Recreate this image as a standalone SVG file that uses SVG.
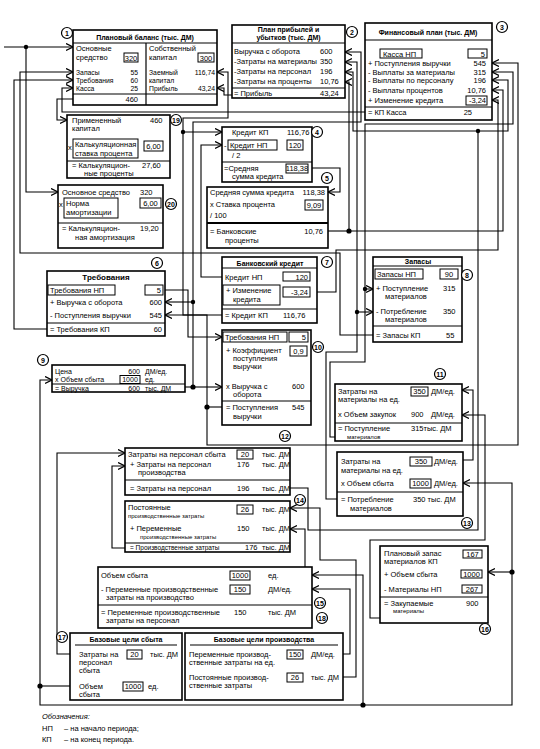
<svg xmlns="http://www.w3.org/2000/svg" width="540" height="749" viewBox="0 0 540 749">
<style>
text{font-family:"Liberation Sans",Arial,sans-serif;font-size:7.5px;fill:#000}
.t{font-weight:bold;font-size:7px}
.s{font-size:6px}
.q{font-size:6.8px}
.r{text-anchor:end}
.m{text-anchor:middle}
.b{fill:#fff;stroke:#000;stroke-width:1.6}
.v{fill:none;stroke:#000;stroke-width:1}
.ln{stroke:#000;stroke-width:1.2}
.c{fill:#fff;stroke:#000;stroke-width:1.2}
.cn{font-size:7px;font-weight:bold;text-anchor:middle}
.w{fill:none;stroke:#000;stroke-width:1.1;marker-end:url(#a)}
.wn{fill:none;stroke:#000;stroke-width:1.1}
.d{fill:#000}
.i{font-style:italic}
</style>
<defs>
<marker id="a" markerWidth="9" markerHeight="9" refX="7" refY="4" orient="auto" markerUnits="userSpaceOnUse"><path d="M0,0.5 L7,4 L0,7.5" fill="none" stroke="#000" stroke-width="1.3"/></marker>
</defs>
<rect width="540" height="749" fill="#fff"/>

<g id="connectors">
<path class="w" d="M4,47 H73"/>
<path class="w" d="M26,47 V192 H58"/>
<path class="w" d="M373,335 H340 V253 H20 V72 H73"/>
<path class="w" d="M47,329 H14 V80 H73"/>
<path class="w" d="M365,112 H62 V88 H73"/>
<path class="w" d="M73,99 H57 V120 H67"/>
<path class="w" d="M232,95 H224 V88 H217"/>
<path class="w" d="M222,315 H183 V132 H222"/>
<path class="w" d="M183,132 V118 H228 V72 H217"/>
<path class="w" d="M222,277 H201 V145 H222"/>
<path class="w" d="M165,290 H188 V337 H222"/>
<path class="wn" d="M185,387 H193"/>
<path class="w" d="M193,387 H222"/>
<path class="w" d="M193,387 V122 H361 V52 H345"/>
<path class="w" d="M193,302 H165"/>
<path class="wn" d="M222,407 H207"/>
<path class="w" d="M207,407 V315 H165"/>
<path class="w" d="M207,407 V445 H518 V63 H492"/>
<path class="w" d="M312,168 H340 V192 H328"/>
<path class="wn" d="M328,231 H349"/>
<path class="w" d="M349,231 V82 H345"/>
<path class="w" d="M349,231 H503 V90 H492"/>
<path class="w" d="M337,499 H326 V352 H357 V62 H345"/>
<path class="w" d="M357,312 H373"/>
<path class="w" d="M335,437 H330 V362 H365 V124 H513 V72 H492"/>
<path class="w" d="M365,289 H373"/>
<path class="w" d="M317,292 H336 V250 H498 V100 H492"/>
<path class="w" d="M290,488 H308 V530 H478 V131 H353 V72 H345"/>
<path class="w" d="M478,131 H508 V80 H492"/>
<path class="w" d="M463,460 H473 V390 H462"/>
<path class="w" d="M380,618 H370 V540 H485 V415 H462"/>
<path class="wn" d="M70,686 H40"/>
<path class="w" d="M40,686 V380 H52"/>
<path class="wn" d="M40,686 V705 H363"/>
<path class="w" d="M363,705 V575 H312"/>
<path class="w" d="M363,705 H512 V483 H463"/>
<path class="w" d="M512,572 H488"/>
<path class="w" d="M70,654 H57 V453 H125"/>
<path class="w" d="M125,548 H112 V466 H125"/>
<path class="w" d="M305,567 V529 H290"/>
<path class="w" d="M343,654 H350 V589 H312"/>
<path class="w" d="M343,677 H356 V560 H320 V508 H290"/>
<circle class="d" cx="26" cy="47" r="2.2"/>
<circle class="d" cx="183" cy="132" r="2.2"/>
<circle class="d" cx="193" cy="387" r="2.6"/>
<circle class="d" cx="193" cy="302" r="2.2"/>
<circle class="d" cx="207" cy="407" r="2.6"/>
<circle class="d" cx="349" cy="231" r="2.6"/>
<circle class="d" cx="357" cy="312" r="2.2"/>
<circle class="d" cx="365" cy="289" r="2.2"/>
<circle class="d" cx="478" cy="131" r="2.2"/>
<circle class="d" cx="40" cy="686" r="2.6"/>
<circle class="d" cx="363" cy="705" r="2.6"/>
<circle class="d" cx="512" cy="572" r="2.6"/>
</g>

<g id="n1">
<rect class="b" x="73" y="30" width="144" height="75"/>
<text class="t m" x="145" y="40">Плановый баланс (тыс. ДМ)</text>
<line class="ln" x1="73" y1="43" x2="217" y2="43"/>
<line class="ln" x1="146" y1="43" x2="146" y2="105"/>
<line class="ln" x1="73" y1="94" x2="217" y2="94"/>
<text x="76" y="51">Основные</text>
<text x="76" y="60">средство</text>
<rect class="v" x="124" y="53" width="14" height="9"/>
<text class="m" x="131" y="60.5">320</text>
<text class="q" x="76" y="74.5">Запасы</text><text class="q r" x="138" y="74.5">55</text>
<text class="q" x="76" y="82.5">Требования</text><text class="q r" x="138" y="82.5">60</text>
<text class="q" x="76" y="90.5">Касса</text><text class="q r" x="138" y="90.5">25</text>
<text class="r" x="138" y="102">460</text>
<text x="149" y="51">Собственный</text>
<text x="149" y="60">капитал</text>
<rect class="v" x="198" y="53" width="16" height="9"/>
<text class="m" x="206" y="60.5">300</text>
<text class="q" x="149" y="74.5">Заемный</text><text class="q r" x="215" y="74.5">116,74</text>
<text class="q" x="149" y="82.5">капитал</text>
<text class="q" x="149" y="90.5">Прибыль</text><text class="q r" x="215" y="90.5">43,24</text>
<circle class="c" cx="67" cy="33" r="5.5"/><text class="cn" x="67" y="35.5">1</text>
</g>

<g id="n2">
<rect class="b" x="232" y="25" width="113" height="73"/>
<text class="t m" x="288.5" y="32">План прибылей и</text>
<text class="t m" x="288.5" y="39.5">убытков (тыс. ДМ)</text>
<line class="ln" x1="232" y1="43" x2="345" y2="43"/>
<text x="234" y="54">Выручка с оборота</text><text x="320" y="54">600</text>
<text x="234" y="64">-Затраты на материалы</text><text x="320" y="64">350</text>
<text x="234" y="74">-Затраты на персонал</text><text x="320" y="74">196</text>
<text x="234" y="84">-Затраты на проценты</text><text x="320" y="84">10,76</text>
<line class="ln" x1="232" y1="88" x2="345" y2="88"/>
<text x="234" y="96">= Прибыль</text><text x="320" y="96">43,24</text>
<circle class="c" cx="352" cy="32" r="5.5"/><text class="cn" x="352" y="34.5">2</text>
</g>

<g id="n3">
<rect class="b" x="365" y="23" width="127" height="97"/>
<text class="t m" x="428" y="35">Финансовый план (тыс. ДМ)</text>
<line class="ln" x1="365" y1="40" x2="492" y2="40"/>
<rect class="v" x="380" y="49" width="42" height="9"/>
<text x="383" y="56.5">Касса НП</text>
<rect class="v" x="468" y="49" width="19" height="9"/>
<text class="r" x="485" y="56.5">5</text>
<text x="368" y="65.5">+ Поступления выручки</text><text class="r" x="486" y="65.5">545</text>
<text x="368" y="74.5">- Выплаты за материалы</text><text class="r" x="486" y="74.5">315</text>
<text x="368" y="82.5">- Выплаты по персоналу</text><text class="r" x="486" y="82.5">196</text>
<text x="368" y="92.5">- Выплаты процентов</text><text class="r" x="486" y="92.5">10,76</text>
<text x="368" y="102.5">+ Изменение кредита</text>
<rect class="v" x="466" y="96" width="21" height="9"/>
<text class="r" x="486" y="103">-3,24</text>
<line class="ln" x1="365" y1="107" x2="492" y2="107"/>
<text x="368" y="115">= КП Касса</text><text class="r" x="472" y="115">25</text>
<circle class="c" cx="502" cy="27" r="5.5"/><text class="cn" x="502" y="29.5">3</text>
</g>

<g id="n19">
<rect class="b" x="67" y="115" width="103" height="63"/>
<text x="72" y="123">Примененный</text>
<text x="72" y="131">капитал</text>
<text x="150" y="123">460</text>
<text x="68" y="150">x</text>
<rect class="v" x="73" y="139" width="65" height="19"/>
<text x="75" y="147">Калькуляционная</text>
<text x="75" y="155.5">ставка процента</text>
<rect class="v" x="144" y="141" width="19" height="10"/>
<text class="m" x="153.5" y="148.5">6,00</text>
<line class="ln" x1="67" y1="161" x2="170" y2="161"/>
<text x="72" y="168">= Калькуляцион-</text>
<text x="84" y="176">ные проценты</text>
<text x="142" y="168">27,60</text>
<circle class="c" cx="176" cy="120" r="5.5"/><text class="cn" x="176" y="122.5">19</text>
</g>

<g id="n20">
<rect class="b" x="58" y="185" width="105" height="63"/>
<text x="62" y="194.5">Основное средство</text>
<text x="140" y="194.5">320</text>
<text x="59" y="207">x</text>
<rect class="v" x="64" y="198" width="54" height="20"/>
<text x="66" y="206">Норма</text>
<text x="66" y="215">амортизации</text>
<rect class="v" x="140" y="198" width="21" height="10"/>
<text class="m" x="150.5" y="205.5">6,00</text>
<line class="ln" x1="58" y1="223" x2="163" y2="223"/>
<text x="62" y="231">= Калькуляцион-</text>
<text x="75" y="239.5">ная амортизация</text>
<text x="140" y="231">19,20</text>
<circle class="c" cx="171" cy="204" r="5.5"/><text class="cn" x="171" y="206.5">20</text>
</g>

<g id="n4">
<rect class="b" x="222" y="127" width="90" height="55"/>
<text x="232" y="134.5">Кредит КП</text><text x="287" y="134.5">116,76</text>
<text x="224" y="147.5">-</text>
<rect class="v" x="228" y="140" width="49" height="10"/>
<text x="230" y="147.5">Кредит НП</text>
<rect class="v" x="287" y="140" width="16" height="10"/>
<text class="m" x="295" y="147.5">120</text>
<text x="232" y="158">/ 2</text>
<line class="ln" x1="222" y1="162" x2="312" y2="162"/>
<text x="224" y="170.5">=Средняя</text>
<text x="232" y="178.5">сумма кредита</text>
<rect class="v" x="286" y="164" width="22" height="9"/>
<text class="m" x="297" y="171">118,38</text>
<circle class="c" cx="317" cy="132" r="5.5"/><text class="cn" x="317" y="134.5">4</text>
</g>

<g id="n5">
<rect class="b" x="207" y="187" width="121" height="61"/>
<text x="210" y="194.5">Средняя сумма кредита</text><text class="r" x="325" y="194.5">118,38</text>
<text x="210" y="207">x Ставка процента</text>
<rect class="v" x="305" y="200" width="18" height="10"/>
<text class="m" x="314" y="207.5">9,09</text>
<text x="210" y="218">/ 100</text>
<line x1="207" y1="223" x2="328" y2="223" stroke="#000" stroke-width="1.8"/>
<text x="210" y="233.5">= Банковские</text>
<text x="225" y="242.5">проценты</text>
<text class="r" x="323" y="233.5">10,76</text>
<circle class="c" cx="327" cy="178" r="5.5"/><text class="cn" x="327" y="180.5">5</text>
</g>

<g id="n6">
<rect class="b" x="47" y="271" width="118" height="65"/>
<text class="t m" x="106" y="280" style="font-size:8px">Требования</text>
<rect class="v" x="48" y="285" width="67" height="10"/>
<text x="50" y="292.5">Требования НП</text>
<rect class="v" x="145" y="285" width="18" height="10"/>
<text class="r" x="161" y="292.5">5</text>
<text x="50" y="304.5">+ Выручка с оборота</text><text class="r" x="162" y="304.5">600</text>
<text x="50" y="317.5">- Поступления выручки</text><text class="r" x="162" y="317.5">545</text>
<line class="ln" x1="47" y1="323" x2="165" y2="323"/>
<text x="50" y="331.5">= Требования КП</text><text class="r" x="162" y="331.5">60</text>
<circle class="c" cx="157" cy="263" r="5.5"/><text class="cn" x="157" y="265.5">6</text>
</g>

<g id="n7">
<rect class="b" x="222" y="257" width="95" height="66"/>
<text class="t m" x="270" y="265.5">Банковский кредит</text>
<line class="ln" x1="222" y1="268" x2="317" y2="268"/>
<text x="225" y="279.5">Кредит НП</text>
<rect class="v" x="283" y="272" width="27" height="9"/>
<text class="r" x="308" y="279.5">120</text>
<rect class="v" x="223" y="285" width="57" height="20"/>
<text x="226" y="293">+ Изменение</text>
<text x="233" y="302">кредита</text>
<rect class="v" x="283" y="287" width="27" height="10"/>
<text class="r" x="308" y="294.5">-3,24</text>
<line class="ln" x1="222" y1="309" x2="317" y2="309"/>
<text x="225" y="317.5">= Кредит КП</text><text x="283" y="317.5">116,76</text>
<circle class="c" cx="327" cy="262" r="5.5"/><text class="cn" x="327" y="264.5">7</text>
</g>

<g id="n8">
<rect class="b" x="373" y="257" width="89" height="85"/>
<text class="t m" x="418" y="264">Запасы</text>
<line class="ln" x1="373" y1="266" x2="462" y2="266"/>
<rect class="v" x="375" y="269" width="48" height="10"/>
<text x="377" y="276.5">Запасы НП</text>
<rect class="v" x="440" y="269" width="18" height="10"/>
<text class="m" x="449" y="276.5">90</text>
<text x="376" y="291">+ Поступление</text>
<text x="385" y="299">материалов</text>
<text x="443" y="291">315</text>
<text x="376" y="314">- Потребление</text>
<text x="385" y="322">материалов</text>
<text x="443" y="314">350</text>
<line class="ln" x1="373" y1="326" x2="462" y2="326"/>
<text x="376" y="337.5">= Запасы КП</text><text x="446" y="337.5">55</text>
<circle class="c" cx="467" cy="275" r="5.5"/><text class="cn" x="467" y="277.5">8</text>
</g>

<g id="n9">
<rect class="b" x="52" y="365" width="133" height="27"/>
<text x="55" y="373.5" style="font-size:7px">Цена</text>
<text class="r" x="140" y="373.5" style="font-size:7px">600</text>
<text x="145" y="373.5" style="font-size:7px">ДМ/ед.</text>
<text x="55" y="381.5" style="font-size:7px">x Объем сбыта</text>
<rect class="v" x="120" y="375.5" width="20" height="8"/>
<text class="m" x="130" y="381.5" style="font-size:7px">1000</text>
<text x="145" y="381.5" style="font-size:7px">ед.</text>
<line class="ln" x1="52" y1="384" x2="185" y2="384"/>
<text x="55" y="390.5" style="font-size:7px">= Выручка</text>
<text class="r" x="140" y="390.5" style="font-size:7px">600</text>
<text x="145" y="390.5" style="font-size:7px">тыс. ДМ</text>
<circle class="c" cx="43" cy="360" r="5.5"/><text class="cn" x="43" y="362.5">9</text>
</g>

<g id="n10">
<rect class="b" x="222" y="330" width="89" height="95"/>
<rect class="v" x="223" y="332" width="64" height="10"/>
<text x="225" y="339.5">Требования НП</text>
<rect class="v" x="289" y="332" width="19" height="10"/>
<text class="r" x="306" y="339.5">5</text>
<text x="226" y="353">+ Коэффициент</text>
<text x="233" y="361">поступления</text>
<text x="233" y="369">выручки</text>
<rect class="v" x="290" y="346" width="17" height="10"/>
<text class="m" x="298.5" y="353.5">0,9</text>
<text x="226" y="389">x Выручка с</text>
<text x="233" y="397">оборота</text>
<text x="292" y="389">600</text>
<line class="ln" x1="222" y1="401" x2="311" y2="401"/>
<text x="226" y="410">= Поступления</text>
<text x="233" y="418.5">выручки</text>
<text x="292" y="410">545</text>
<circle class="c" cx="318" cy="347" r="5.5"/><text class="cn" x="318" y="349.5">10</text>
</g>

<g id="n11">
<rect class="b" x="335" y="384" width="127" height="57"/>
<text x="338" y="394">Затраты на</text>
<text x="338" y="402">материалы на ед.</text>
<rect class="v" x="411" y="387" width="17" height="9"/>
<text class="m" x="419.5" y="394">350</text>
<text x="431" y="394">ДМ/ед.</text>
<text x="338" y="417">x Объем закупок</text>
<text x="411" y="417">900</text>
<text x="431" y="417">ДМ/ед.</text>
<line class="ln" x1="335" y1="423" x2="462" y2="423"/>
<text x="338" y="431">= Поступление</text>
<text class="s" x="347" y="438.5">материалов</text>
<text x="411" y="431">315тыс. ДМ</text>
<circle class="c" cx="440" cy="374" r="5.5"/><text class="cn" x="440" y="376.5">11</text>
</g>

<g id="n12">
<rect class="b" x="125" y="448" width="165" height="47"/>
<text x="128" y="456.5">Затраты на персонал сбыта</text>
<rect class="v" x="237" y="450" width="16" height="9"/>
<text class="m" x="245" y="457">20</text>
<text x="262" y="456.5">тыс. ДМ</text>
<text x="130" y="467">+ Затраты на персонал</text>
<text x="138" y="475">производства</text>
<text x="237" y="467">176</text><text x="262" y="467">тыс. ДМ</text>
<line class="ln" x1="125" y1="480" x2="290" y2="480"/>
<text x="130" y="490.5">= Затраты на персонал</text>
<text x="237" y="490.5">196</text><text x="262" y="490.5">тыс. ДМ</text>
<circle class="c" cx="285" cy="436" r="5.5"/><text class="cn" x="285" y="438.5">12</text>
</g>

<g id="n13">
<rect class="b" x="337" y="452" width="126" height="64"/>
<text x="341" y="464">Затраты на</text>
<text x="341" y="473">материалы на ед.</text>
<rect class="v" x="410" y="457" width="22" height="9"/>
<text class="m" x="421" y="464">350</text>
<text x="434" y="464">ДМ/ед.</text>
<text x="341" y="486">x Объем сбыта</text>
<rect class="v" x="410" y="479" width="21" height="9"/>
<text class="m" x="420.5" y="486">1000</text>
<text x="434" y="486">ДМ/ед.</text>
<line class="ln" x1="337" y1="492" x2="463" y2="492"/>
<text x="341" y="501.5">= Потребление</text>
<text x="350" y="510.5">материалов</text>
<text x="413" y="501.5">350 тыс. ДМ</text>
<circle class="c" cx="467" cy="523" r="5.5"/><text class="cn" x="467" y="525.5">13</text>
</g>

<g id="n14">
<rect class="b" x="125" y="501" width="165" height="51"/>
<text x="128" y="510">Постоянные</text>
<text class="s" x="128" y="518">производственные затраты</text>
<rect class="v" x="237" y="505" width="16" height="9"/>
<text class="m" x="245" y="512">26</text>
<text x="262" y="512">тыс. ДМ</text>
<text x="130" y="531">+ Переменные</text>
<text class="s" x="140" y="539">производственные затраты</text>
<text x="237" y="531">150</text><text x="262" y="531">тыс. ДМ</text>
<line class="ln" x1="125" y1="543" x2="290" y2="543"/>
<text x="130" y="550" style="font-size:6.5px">= Производственные затраты</text>
<text x="245" y="550">176</text><text x="262" y="550">тыс. ДМ</text>
<circle class="c" cx="300" cy="500" r="5.5"/><text class="cn" x="300" y="502.5">14</text>
</g>

<g id="n15">
<rect class="b" x="98" y="567" width="214" height="61"/>
<text x="101" y="577.5">Объем сбыта</text>
<rect class="v" x="230" y="571" width="20" height="9"/>
<text class="m" x="240" y="578">1000</text>
<text x="268" y="577.5">ед.</text>
<text x="101" y="591.5">- Переменные производственные</text>
<text x="106" y="599.5">затраты на производство</text>
<rect class="v" x="230" y="585" width="20" height="9"/>
<text class="m" x="240" y="592">150</text>
<text x="268" y="591.5">ДМ/ед.</text>
<line class="ln" x1="98" y1="605" x2="312" y2="605"/>
<text x="101" y="614.5">= Переменные производственные</text>
<text x="106" y="622.5">затраты на персонал</text>
<text x="234" y="614.5">150</text>
<text x="268" y="614.5">тыс. ДМ</text>
<circle class="c" cx="320" cy="603" r="5.5"/><text class="cn" x="320" y="605.5">15</text>
</g>

<g id="n16">
<rect class="b" x="380" y="546" width="108" height="77"/>
<text x="384" y="555.5">Плановый запас</text>
<text x="384" y="563.5">материалов КП</text>
<rect class="v" x="463" y="550" width="19" height="8"/>
<text class="m" x="472.5" y="557">167</text>
<text x="384" y="576.5">+ Объем сбыта</text>
<rect class="v" x="461" y="570" width="21" height="8"/>
<text class="m" x="471.5" y="577">1000</text>
<text x="384" y="591.5">- Материалы НП</text>
<rect class="v" x="462" y="585" width="20" height="8"/>
<text class="m" x="472" y="592">267</text>
<line class="ln" x1="380" y1="597" x2="488" y2="597"/>
<text x="384" y="605.5">= Закупаемые</text>
<text class="s" x="393" y="612.5">материалы</text>
<text x="466" y="605.5">900</text>
<circle class="c" cx="485" cy="629" r="5.5"/><text class="cn" x="485" y="631.5">16</text>
</g>

<g id="n17">
<rect class="b" x="70" y="633" width="112" height="67"/>
<text class="t m" x="126" y="642">Базовые цели сбыта</text>
<line class="ln" x1="75" y1="645" x2="177" y2="645"/>
<text x="79" y="656.5">Затраты на</text>
<text x="79" y="664.5">персонал</text>
<text x="79" y="672.5">сбыта</text>
<rect class="v" x="127" y="650" width="15" height="9"/>
<text class="m" x="134.5" y="657">20</text>
<text x="150" y="656.5">тыс. ДМ</text>
<text x="79" y="688.5">Объем</text>
<text x="79" y="696.5">сбыта</text>
<rect class="v" x="123" y="682" width="20" height="9"/>
<text class="m" x="133" y="689">1000</text>
<text x="148" y="689">ед.</text>
<circle class="c" cx="62" cy="637" r="5.5"/><text class="cn" x="62" y="639.5">17</text>
</g>

<g id="n18">
<rect class="b" x="185" y="633" width="158" height="67"/>
<text class="t m" x="264" y="642">Базовые цели производства</text>
<line class="ln" x1="190" y1="645" x2="338" y2="645"/>
<text x="189" y="656.5">Переменные производ-</text>
<text x="189" y="665">ственные затраты на ед.</text>
<rect class="v" x="287" y="650" width="16" height="9"/>
<text class="m" x="295" y="657">150</text>
<text x="311" y="656.5">ДМ/ед.</text>
<text x="189" y="679.5">Постоянные производ-</text>
<text x="189" y="688">ственные затраты</text>
<rect class="v" x="287" y="673" width="16" height="9"/>
<text class="m" x="295" y="680">26</text>
<text x="311" y="679.5">тыс. ДМ</text>
<circle class="c" cx="322" cy="618" r="5.5"/><text class="cn" x="322" y="620.5">18</text>
</g>

<g id="legend">
<text class="i" x="42" y="719">Обозначения:</text>
<text x="42" y="731">НП</text><text x="64" y="731">– на начало периода;</text>
<text x="42" y="742">КП</text><text x="64" y="742">– на конец периода.</text>
</g>
</svg>
